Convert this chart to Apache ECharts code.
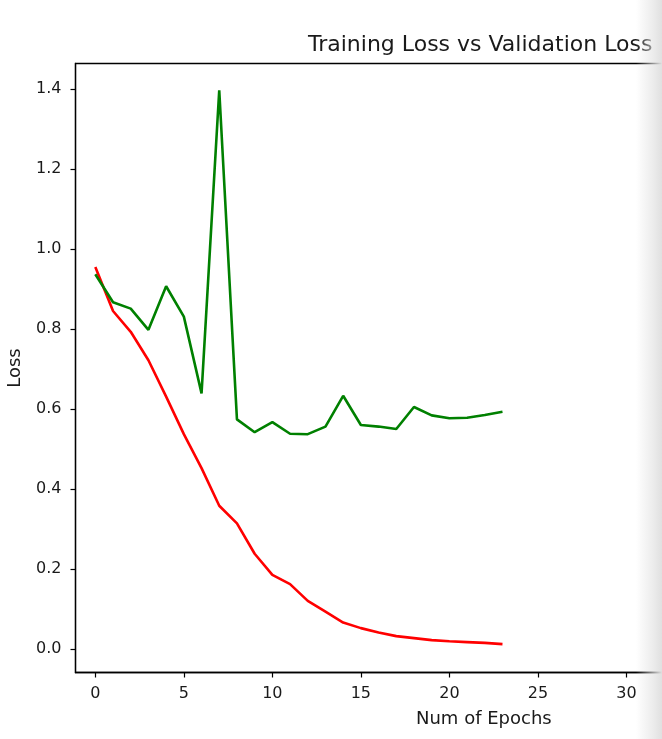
<!DOCTYPE html>
<html>
<head>
<meta charset="utf-8">
<title>Training Loss vs Validation Loss</title>
<script src="https://cdn.jsdelivr.net/npm/echarts@6/dist/echarts.min.js"></script>
<style>
  html, body { margin: 0; padding: 0; background: #ffffff; }
  #chart { width: 662px; height: 739px; }
</style>
</head>
<body>
<div id="chart"></div>
<script>
// Per-epoch loss history
const epochs = [0, 1, 2, 3, 4, 5, 6, 7, 8, 9, 10, 11, 12, 13, 14, 15, 16, 17, 18, 19, 20, 21, 22, 23];
const trainLoss = [0.955, 0.845, 0.793, 0.722, 0.631, 0.537, 0.452, 0.358, 0.314, 0.238, 0.185, 0.162, 0.120, 0.093,
                   0.066, 0.052, 0.041, 0.032, 0.027, 0.022, 0.019, 0.017, 0.015, 0.012];
const valLoss = [0.937, 0.867, 0.851, 0.798, 0.907, 0.831, 0.639, 1.397, 0.574, 0.542, 0.567, 0.538, 0.537, 0.556,
                 0.633, 0.560, 0.556, 0.550, 0.605, 0.584, 0.577, 0.578, 0.585, 0.593];

// Tick positions shown on each axis
const xTicks = [0, 5, 10, 15, 20, 25, 30];
const yTicks = [0.0, 0.2, 0.4, 0.6, 0.8, 1.0, 1.2, 1.4];

const FONT = 'DejaVu Sans';
const INK = '#1a1a1a';

const chart = echarts.init(document.getElementById('chart'), null, { renderer: 'canvas' });

const toPairs = (ys) => epochs.map((e, i) => [e, ys[i]]);

chart.setOption({
  animation: false,
  backgroundColor: '#ffffff',
  title: {
    text: 'Training Loss vs Validation Loss',
    left: 308,
    top: 34,
    padding: 0,
    textStyle: { fontFamily: FONT, fontSize: 22, fontWeight: 'normal', color: INK }
  },
  grid: {
    left: 75.5,
    top: 63.5,
    right: -3,
    height: 609,
    outerBoundsMode: 'none',
    containLabel: false,
    show: true,
    borderColor: '#000000',
    borderWidth: 1.3,
    backgroundColor: 'transparent'
  },
  xAxis: {
    type: 'value',
    min: -1.12,
    max: 32.18,
    axisLine: { show: true, onZero: false, lineStyle: { color: '#000000', width: 1.3 } },
    axisTick: { show: true, length: 5, customValues: xTicks, lineStyle: { color: '#000000', width: 1.2 } },
    axisLabel: {
      show: true, customValues: xTicks, margin: 13,
      fontFamily: FONT, fontSize: 16, color: INK,
      formatter: (v) => String(v)
    },
    splitLine: { show: false }
  },
  yAxis: {
    type: 'value',
    min: -0.059,
    max: 1.464,
    name: 'Loss',
    nameLocation: 'middle',
    nameRotate: 90,
    nameGap: 51,
    nameTextStyle: { fontFamily: FONT, fontSize: 18, color: INK },
    axisLine: { show: true, onZero: false, lineStyle: { color: '#000000', width: 1.3 } },
    axisTick: { show: true, length: 5, customValues: yTicks, lineStyle: { color: '#000000', width: 1.2 } },
    axisLabel: {
      show: true, customValues: yTicks, margin: 14,
      fontFamily: FONT, fontSize: 16, color: INK,
      formatter: (v) => v.toFixed(1)
    },
    splitLine: { show: false }
  },
  series: [
    {
      name: 'Training Loss',
      type: 'line',
      data: toPairs(trainLoss),
      showSymbol: false,
      symbol: 'none',
      lineStyle: { color: '#ff0000', width: 2.6 },
      z: 3
    },
    {
      name: 'Validation Loss',
      type: 'line',
      data: toPairs(valLoss),
      showSymbol: false,
      symbol: 'none',
      lineStyle: { color: '#008000', width: 2.6 },
      z: 4
    }
  ],
  graphic: [
    {
      // x-axis title, centred under the full plot frame
      type: 'text',
      left: 416,
      top: 710,
      silent: true,
      style: { text: 'Num of Epochs', fontFamily: FONT, fontSize: 18, fill: INK }
    },
    {
      // soft grey shading along the right edge of the page
      type: 'rect',
      right: 0,
      top: 0,
      z: 100,
      silent: true,
      shape: { width: 26, height: 739 },
      style: {
        fill: {
          type: 'linear', x: 0, y: 0, x2: 1, y2: 0,
          colorStops: [
            { offset: 0, color: 'rgba(226,226,226,0)' },
            { offset: 0.6, color: 'rgba(226,226,226,0.6)' },
            { offset: 1, color: 'rgba(224,224,224,1)' }
          ]
        }
      }
    }
  ]
});
</script>
</body>
</html>
